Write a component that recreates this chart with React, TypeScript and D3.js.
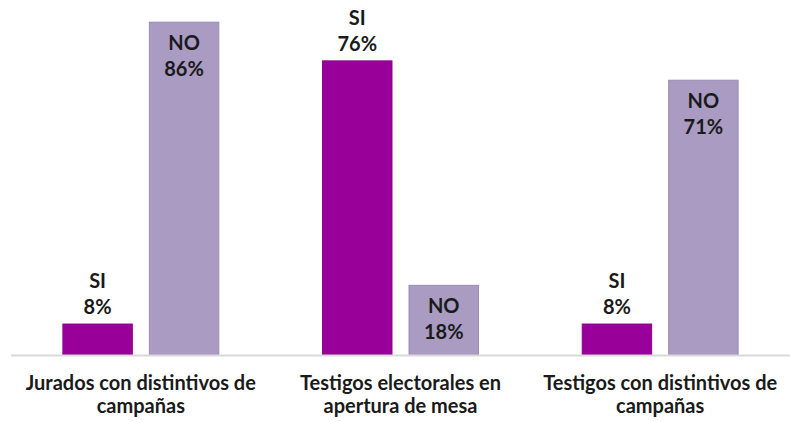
import React from "react";
import * as d3 from "d3";

const categories: string[][] = [
  ["Jurados con distintivos de", "campañas"],
  ["Testigos electorales en", "apertura de mesa"],
  ["Testigos con distintivos de", "campañas"],
];
const seriesNames = ["SI", "NO"];
const siValues = [8, 76, 8];
const noValues = [86, 18, 71];

const W = 790;
const H = 421;
const FONT = "Lato, 'Open Sans', sans-serif";

export default function App() {
  const x0 = d3.scaleBand<number>().domain([0, 1, 2]).range([11, 790]).paddingInner(0).paddingOuter(0);
  const x1 = d3
    .scaleBand<string>()
    .domain(seriesNames)
    .range([0, x0.bandwidth()])
    .paddingInner(0.197)
    .paddingOuter(0.6);
  const y = d3.scaleLinear().domain([0, 100]).range([355, 355 - 387]);

  const colors: Record<string, string> = { SI: "#990099", NO: "#A99BC2" };
  const strokes: Record<string, string> = { SI: "#8a008a", NO: "#9a8cb3" };

  return (
    <svg
      width={W}
      height={H}
      style={{ position: "absolute", left: 0, top: 0, background: "#fff" }}
      fontFamily={FONT}
    >
      {categories.map((cat, i) => {
        const gx = x0(i)!;
        return (
          <g key={i}>
            {seriesNames.map((s) => {
              const v = s === "SI" ? siValues[i] : noValues[i];
              const bx = gx + x1(s)!;
              const bw = x1.bandwidth();
              const top = y(v);
              const cx = bx + bw / 2;
              const inside = s === "NO";
              return (
                <g key={s}>
                  <rect
                    x={bx}
                    y={top}
                    width={bw}
                    height={y(0) - top}
                    fill={colors[s]}
                    stroke={strokes[s]}
                    strokeWidth={1}
                  />
                  <text
                    x={cx}
                    y={inside ? top + 28 : top - 36}
                    textAnchor="middle"
                    fontSize={20}
                    fontWeight={700}
                    fill="#1a1a1a"
                  >
                    {s}
                  </text>
                  <text
                    x={cx}
                    y={inside ? top + 54 : top - 10}
                    textAnchor="middle"
                    fontSize={20}
                    fontWeight={700}
                    fill="#1a1a1a"
                  >
                    {v}%
                  </text>
                </g>
              );
            })}
            {cat.map((line, j) => (
              <text
                key={j}
                x={gx + x0.bandwidth() / 2}
                y={390 + j * 23}
                textAnchor="middle"
                fontSize={20}
                fontWeight={700}
                fill="#1a1a1a"
              >
                {line}
              </text>
            ))}
          </g>
        );
      })}
      <line x1={11} x2={790} y1={y(0) + 0.5} y2={y(0) + 0.5} stroke="#d9d9d9" strokeWidth={2} />
    </svg>
  );
}
